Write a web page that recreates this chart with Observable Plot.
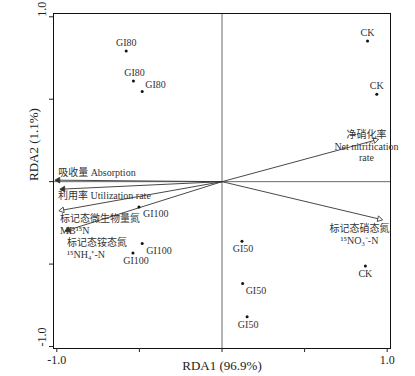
<!DOCTYPE html>
<html>
<head>
<meta charset="utf-8">
<script src="https://cdn.jsdelivr.net/npm/d3@7"></script>
<script src="https://cdn.jsdelivr.net/npm/@observablehq/plot@0.6"></script>
<style>
  html, body { margin: 0; padding: 0; background: #fff; }
  #chart { width: 415px; height: 376px; }
</style>
</head>
<body>
<div id="chart"></div>
<script>
// ---- Data ----
const siteNames = ["GI80", "GI80", "GI80", "CK", "CK", "CK", "GI50", "GI50", "GI50", "GI100", "GI100", "GI100"];
const siteRDA1  = [-0.580, -0.536, -0.483, 0.881, 0.937, 0.868, 0.121, 0.125, 0.152, -0.503, -0.483, -0.539];
const siteRDA2  = [ 0.793,  0.611,  0.547, 0.853, 0.530, -0.512, -0.361, -0.617, -0.819, -0.153, -0.375, -0.432];

const varNames = [
  "吸收量 Absorption",
  "利用率 Utilization rate",
  "标记态微生物量氮\nMB¹⁵N",
  "标记态铵态氮\n¹⁵NH₄⁺-N",
  "净硝化率\nNet nitrification\nrate",
  "标记态硝态氮\n¹⁵NO₃⁻-N"
];
const varRDA1 = [-0.992, -0.962, -0.968, -0.932, 0.929, 0.953];
const varRDA2 = [ 0.009, -0.045, -0.173, -0.294, 0.252, -0.227];

const axisTicks = [-1, -0.5, 0, 0.5, 1];
const axisTickLabels = [-1, 1];
const xTitle = "RDA1 (96.9%)";
const yTitle = "RDA2 (1.1%)";

// ---- Tables built from the arrays ----
const sites = siteNames.map((name, i) => ({name, x: siteRDA1[i], y: siteRDA2[i], i}));
const vars = varNames.map((name, i) => ({name, x: varRDA1[i], y: varRDA2[i], i}));

// label placement (layout only)
const siteLabelLayout = [
  {dx: 0, dy: -8, anchor: "middle"},
  {dx: 1, dy: -8, anchor: "middle"},
  {dx: 3, dy: -7, anchor: "start"},
  {dx: 0, dy: -8, anchor: "middle"},
  {dx: 0, dy: -8, anchor: "middle"},
  {dx: 0, dy: 8, anchor: "middle"},
  {dx: 1, dy: 8, anchor: "middle"},
  {dx: 3, dy: 7, anchor: "start"},
  {dx: 1, dy: 8, anchor: "middle"},
  {dx: 4, dy: 7, anchor: "start"},
  {dx: 4, dy: 7, anchor: "start"},
  {dx: 3, dy: 8, anchor: "middle"}
];
const varLabelLayout = [
  {dx: 0, dy: -8, anchor: "start"},
  {dx: -5, dy: 6, anchor: "start"},
  {dx: -2, dy: 14, anchor: "start"},
  {dx: -1, dy: 18, anchor: "start"},
  {dx: -9, dy: 6, anchor: "middle"},
  {dx: -20, dy: 15, anchor: "middle"}
];
const hollowHead = [false, false, true, false, true, true];

const font = "'Liberation Serif', 'Noto Sans CJK SC', serif";
const labelColor = "#333";

const marks = [
  Plot.ruleX([0], {stroke: "#444", strokeWidth: 0.8}),
  Plot.ruleY([0], {stroke: "#444", strokeWidth: 0.8}),
  Plot.frame({stroke: "#111", strokeWidth: 1}),
  Plot.axisY({ticks: axisTicks, tickFormat: () => "", tickSize: 4, label: null}),
  Plot.axisX({ticks: axisTicks, tickSize: 4, tickPadding: 3, label: null, fontSize: 12,
              tickFormat: d => axisTickLabels.includes(d) ? d.toFixed(1) : ""}),
  Plot.text(axisTickLabels, {y: d => d, frameAnchor: "left", dx: -11, rotate: -90,
              text: d => d.toFixed(1), fontSize: 12, fill: "#222"}),
  Plot.text([xTitle], {frameAnchor: "bottom", dy: 17, lineAnchor: "middle", fontSize: 13, fill: "#222"}),
  Plot.text([yTitle], {frameAnchor: "left", dx: -20, rotate: -90, lineAnchor: "middle", fontSize: 13, fill: "#222"}),
  // biplot arrows
  Plot.link(vars, {x1: 0, y1: 0, x2: "x", y2: "y", stroke: "#333", strokeWidth: 0.9}),
  Plot.dot(vars, {x: "x", y: "y", symbol: "triangle", r: 2.1,
                  rotate: d => Math.atan2(-d.y, d.x) * 180 / Math.PI + 90,
                  stroke: "#333", strokeWidth: 0.8,
                  fill: d => hollowHead[d.i] ? "white" : "#333"}),
  // sample points
  Plot.dot(sites, {x: "x", y: "y", r: 1.5, fill: "#111"})
];

// site labels by layout
siteLabelLayout.forEach((L, i) => {
  marks.push(Plot.text(sites.filter(d => d.i === i), {
    x: "x", y: "y", text: "name", dx: L.dx, dy: L.dy, textAnchor: L.anchor,
    fontSize: 10, fill: labelColor
  }));
});
varLabelLayout.forEach((L, i) => {
  marks.push(Plot.text(vars.filter(d => d.i === i), {
    x: "x", y: "y", text: "name", dx: L.dx, dy: L.dy, textAnchor: L.anchor,
    lineAnchor: "middle", lineHeight: 1.15, fontSize: 10, fill: labelColor
  }));
});

const chart = Plot.plot({
  width: 415,
  height: 376,
  marginLeft: 53,
  marginRight: 25,
  marginTop: 13,
  marginBottom: 28,
  style: {fontFamily: font, background: "white", color: "#222"},
  x: {domain: [-1.02, 1.02]},
  y: {domain: [-1.012, 1.02]},
  marks
});
document.getElementById("chart").appendChild(chart);
</script>
</body>
</html>
